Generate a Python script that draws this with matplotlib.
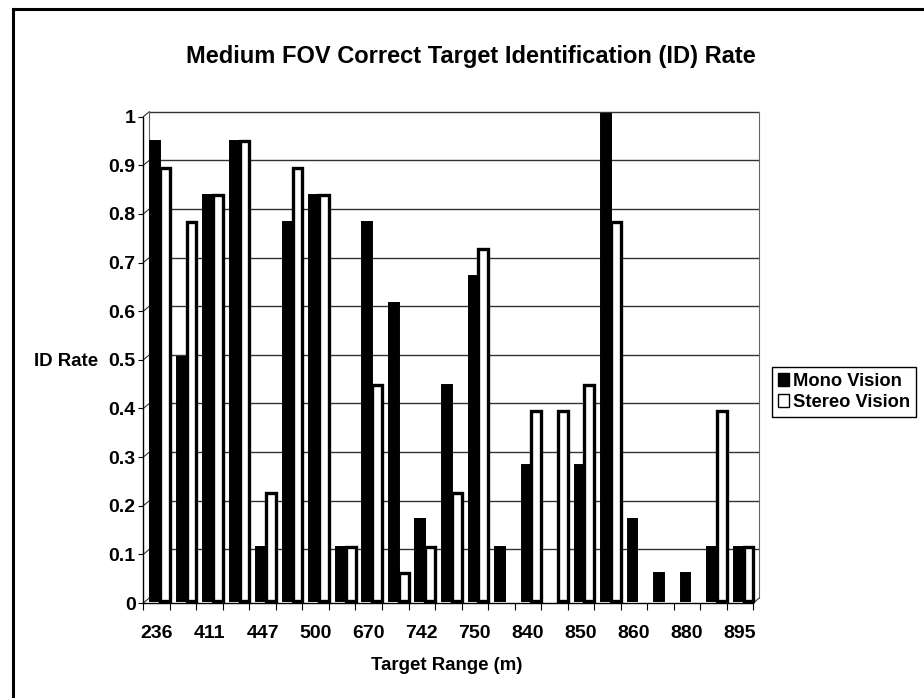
import numpy as np
import matplotlib
matplotlib.use("Agg")
import matplotlib.pyplot as plt
import matplotlib.transforms as mtransforms
from matplotlib.lines import Line2D
from matplotlib.patches import Patch

plt.rcParams["font.family"] = ["Liberation Sans", "DejaVu Sans"]
plt.rcParams["font.weight"] = "bold"

# data (23 target ranges, only every other one is labelled on the axis)
shown_ranges = ["236", "411", "447", "500", "670", "742", "750", "840", "850", "860", "880", "895"]
mono = [0.944, 0.5, 0.833, 0.944, 0.111, 0.778, 0.833, 0.111, 0.778, 0.611, 0.167, 0.444,
        0.667, 0.111, 0.278, 0.0, 0.278, 1.0, 0.167, 0.056, 0.056, 0.111, 0.111]
stereo = [0.889, 0.778, 0.833, 0.944, 0.222, 0.889, 0.833, 0.111, 0.444, 0.056, 0.111, 0.222,
          0.722, 0.0, 0.389, 0.389, 0.444, 0.778, 0.0, 0.0, 0.0, 0.389, 0.111]
yticks = [0, 0.1, 0.2, 0.3, 0.4, 0.5, 0.6, 0.7, 0.8, 0.9, 1]

W, H = 924, 698
fig = plt.figure(figsize=(W / 100, H / 100), dpi=100)
ax = fig.add_axes([143.3 / W, 1 - 603 / H, 610 / W, 486.3 / H])

n = len(mono)
x = np.arange(n)
ax.set_xlim(-0.5, n - 0.5)
ax.set_ylim(0, 1)

# fake 3d depth: back wall sits up and to the right of the front plane
back = mtransforms.offset_copy(ax.transData, fig=fig, x=6, y=5, units="dots")
mid = mtransforms.offset_copy(ax.transData, fig=fig, x=3.5, y=2.5, units="dots")

ax.hlines(yticks[1:], -0.5, n - 0.5, colors="#333333", lw=1.0, transform=back,
          zorder=1, clip_on=False)
ax.vlines([-0.5, n - 0.5], 0, 1, colors="#666666", lw=0.8, transform=back,
          zorder=1, clip_on=False)

w = 0.37
ax.bar(x - 0.185, mono, width=w, color="black",
       edgecolor=["black" if v > 0 else "none" for v in mono], lw=1.4,
       transform=mid, zorder=3, clip_on=False)
ax.bar(x + 0.185, stereo, width=w, color="white",
       edgecolor=["black" if v > 0 else "none" for v in stereo], lw=2.4,
       transform=mid, zorder=4, clip_on=False)

# diagonal stubs joining front ticks to the back wall
fig.canvas.draw()
for yv in yticks:
    x0, y0 = ax.transData.transform((-0.5, yv))
    ax.plot([x0, x0 + 6], [y0, y0 + 5], color="#333333", lw=0.8,
            transform=mtransforms.IdentityTransform(), clip_on=False, zorder=2)
x0, y0 = ax.transData.transform((n - 0.5, 0))
ax.plot([x0, x0 + 6], [y0, y0 + 5], color="#333333", lw=0.8,
        transform=mtransforms.IdentityTransform(), clip_on=False, zorder=2)

for s in ["top", "right"]:
    ax.spines[s].set_visible(False)
ax.spines["left"].set_linewidth(1.0)
ax.spines["bottom"].set_linewidth(1.0)

ax.set_yticks(yticks)
ax.set_yticklabels([f"{v:g}" for v in yticks], fontsize=14, fontweight="bold")
ax.tick_params(axis="y", length=3.5, width=0.8, pad=2)

ax.set_xticks(np.arange(-0.5, n, 1.0))
ax.set_xticklabels([])
ax.set_xticks(x[::2], minor=True)
ax.set_xticklabels(shown_ranges, minor=True, fontsize=14, fontweight="bold")
ax.tick_params(axis="x", which="major", length=5, width=0.8)
ax.tick_params(axis="x", which="minor", length=0, pad=16)

fig.text(471 / W, 1 - 56 / H, "Medium FOV Correct Target Identification (ID) Rate",
         ha="center", va="center", fontsize=17, fontweight="bold")
fig.text(447 / W, 1 - 665 / H, "Target Range (m)", ha="center", va="center",
         fontsize=13.4, fontweight="bold")
fig.text(34 / W, 1 - 362 / H, "ID Rate", ha="left", va="center",
         fontsize=13.4, fontweight="bold")

handles = [Patch(facecolor="black", edgecolor="black"),
           Patch(facecolor="white", edgecolor="black", lw=1)]
leg = fig.legend(handles, ["Mono Vision", "Stereo Vision"], loc="center left",
                 bbox_to_anchor=(772 / W, 1 - 392 / H),
                 prop={"weight": "bold", "size": 13.2},
                 handlelength=0.6, handleheight=0.7, handletextpad=0.25,
                 borderpad=0.3, labelspacing=0.25, borderaxespad=0,
                 fancybox=False, framealpha=1, edgecolor="black")
leg.get_frame().set_linewidth(1.0)

# outer frame (top and left edges visible in the scan)
fig.add_artist(Line2D([13 / W, 1], [1 - 9 / H, 1 - 9 / H], color="black", lw=2.2))
fig.add_artist(Line2D([13 / W, 13 / W], [0, 1 - 9 / H], color="black", lw=2.2))

fig.savefig("out.png", dpi=100)
